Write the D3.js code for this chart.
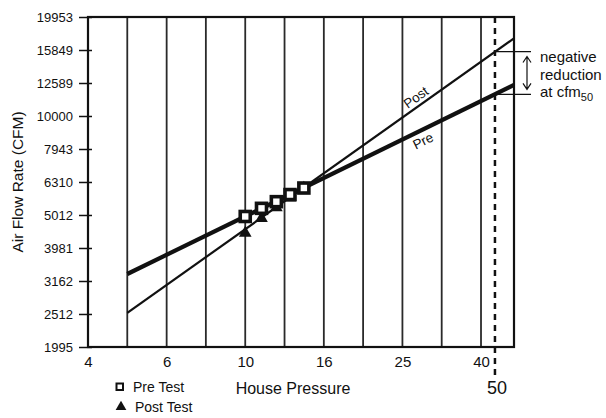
<!DOCTYPE html>
<html>
<head>
<meta charset="utf-8">
<script src="https://cdn.jsdelivr.net/npm/d3@7"></script>
<style>
  body { margin: 0; background: #fff; }
  text { font-family: "Liberation Sans", Arial, Helvetica, sans-serif; fill: #111; }
</style>
</head>
<body>
<div id="chart"></div>
<script>
/* values (log-log axes) */
var xGrid = [5.01, 6.31, 7.94, 10, 12.59, 15.85, 19.95, 25.12, 31.62, 39.81];
var xTickVals = [3.98, 6.31, 10, 15.85, 25.12, 39.81];
var xTickLabels = ["4", "6", "10", "16", "25", "40"];
var yTicks = [1995, 2512, 3162, 3981, 5012, 6310, 7943, 10000, 12589, 15849, 19953];

var preLine = [[5.01, 3320], [48.3, 12420]];
var postLine = [[5.01, 2530], [48.3, 17200]];
var preTest = [[10, 4960], [11, 5250], [12, 5500], [13, 5780], [14.1, 6050]];
var postTest = [[10, 4420], [11, 4900], [12, 5280], [13, 5650], [14.1, 6050]];

var cfm50 = 43.2, cfm50Label = "50";
var preAt50 = 11630, postAt50 = 15680;

var width = 606, height = 418;
var svg = d3.select("#chart").append("svg").attr("width", width).attr("height", height);

var x = d3.scaleLog().domain([3.98, 48.3]).range([88, 514]);
var y = d3.scaleLog().domain([1995, 19953]).range([347, 17]);

/* vertical grid */
svg.append("g").selectAll("line")
  .data(xGrid)
  .enter().append("line")
    .attr("x1", function(d) { return x(d); })
    .attr("x2", function(d) { return x(d); })
    .attr("y1", y(19953)).attr("y2", y(1995))
    .attr("stroke", "#2a2a2a").attr("stroke-width", 1.8);

/* y axis */
var gy = svg.append("g").attr("transform", "translate(88,0)")
  .call(d3.axisLeft(y).tickValues(yTicks).tickFormat(d3.format("d")).tickSize(9).tickPadding(6));
gy.select(".domain").remove();
gy.selectAll(".tick line").attr("x2", -9).attr("x1", 4).attr("stroke", "#111").attr("stroke-width", 1.5);
gy.selectAll(".tick text").attr("font-size", 13).attr("font-family", null).attr("dy", "0.36em");

/* x axis labels */
var gx = svg.append("g").attr("transform", "translate(0,347)")
  .call(d3.axisBottom(x).tickValues(xTickVals).tickSize(0).tickPadding(9)
    .tickFormat(function(d, i) { return xTickLabels[i]; }));
gx.select(".domain").remove();
gx.selectAll(".tick text").attr("font-size", 15).attr("font-family", null);

/* plot border */
svg.append("rect")
  .attr("x", x(3.98)).attr("y", y(19953))
  .attr("width", x(48.3) - x(3.98)).attr("height", y(1995) - y(19953))
  .attr("fill", "none").attr("stroke", "#111").attr("stroke-width", 2.2);

/* lines */
var line = d3.line()
  .x(function(d) { return x(d[0]); })
  .y(function(d) { return y(d[1]); });

svg.append("path").datum(preLine)
  .attr("d", line).attr("fill", "none").attr("stroke", "#111").attr("stroke-width", 4.2);
svg.append("path").datum(postLine)
  .attr("d", line).attr("fill", "none").attr("stroke", "#111").attr("stroke-width", 2.2);

/* dashed 50 Pa line */
svg.append("line")
  .attr("x1", x(cfm50)).attr("x2", x(cfm50))
  .attr("y1", y(19953)).attr("y2", 377)
  .attr("stroke", "#111").attr("stroke-width", 2.5)
  .attr("stroke-dasharray", "6,5");
svg.append("text")
  .attr("x", x(cfm50) + 2).attr("y", 394)
  .attr("text-anchor", "middle").attr("font-size", 18)
  .text(cfm50Label);

/* test points */
svg.append("g").selectAll("path")
  .data(postTest)
  .enter().append("path")
    .attr("d", d3.symbol().type(d3.symbolTriangle).size(70))
    .attr("transform", function(d) { return "translate(" + x(d[0]) + "," + y(d[1]) + ")"; })
    .attr("fill", "#111");

svg.append("g").selectAll("rect")
  .data(preTest)
  .enter().append("rect")
    .attr("x", function(d) { return x(d[0]) - 5; })
    .attr("y", function(d) { return y(d[1]) - 5; })
    .attr("width", 10).attr("height", 10)
    .attr("fill", "#fff").attr("stroke", "#111").attr("stroke-width", 3.6);

/* line labels, rotated along each line */
function lineLabel(data, xv, off, txt) {
  var x0 = x(data[0][0]), y0 = y(data[0][1]), x1 = x(data[1][0]), y1 = y(data[1][1]);
  var ang = Math.atan2(y1 - y0, x1 - x0) * 180 / Math.PI;
  var px = x(xv), py = y0 + (y1 - y0) * (px - x0) / (x1 - x0);
  svg.append("text")
    .attr("transform", "translate(" + px + "," + py + ") rotate(" + ang + ")")
    .attr("y", off)
    .attr("text-anchor", "middle").attr("font-size", 13.5)
    .text(txt);
}
lineLabel(postLine, 28.0, -4, "Post");
lineLabel(preLine, 27.6, 15, "Pre");

/* annotation bracket */
var ax0 = x(cfm50), ax1 = 531, axm = 527;
svg.append("line").attr("x1", ax0).attr("x2", ax1).attr("y1", y(postAt50)).attr("y2", y(postAt50))
  .attr("stroke", "#111").attr("stroke-width", 1.2);
svg.append("line").attr("x1", ax0).attr("x2", ax1).attr("y1", y(preAt50)).attr("y2", y(preAt50))
  .attr("stroke", "#111").attr("stroke-width", 1.2);
var ya = y(postAt50) + 5, yb = y(preAt50) - 5;
svg.append("path")
  .attr("d", "M" + axm + "," + ya + "V" + yb +
    "M" + (axm - 4) + "," + (ya + 6) + "L" + axm + "," + ya + "L" + (axm + 4) + "," + (ya + 6) +
    "M" + (axm - 4) + "," + (yb - 6) + "L" + axm + "," + yb + "L" + (axm + 4) + "," + (yb - 6))
  .attr("fill", "none").attr("stroke", "#111").attr("stroke-width", 1.2);

var note = svg.append("text").attr("font-size", 15);
note.append("tspan").attr("x", 540).attr("y", 62).text("negative");
note.append("tspan").attr("x", 540).attr("y", 80).text("reduction");
note.append("tspan").attr("x", 540).attr("y", 97).text("at cfm");
note.append("tspan").attr("dy", 4).attr("font-size", 11).text("50");

/* axis titles */
svg.append("text")
  .attr("transform", "translate(23,182) rotate(-90)")
  .attr("text-anchor", "middle").attr("font-size", 15.5)
  .text("Air Flow Rate (CFM)");
svg.append("text")
  .attr("x", 293).attr("y", 394)
  .attr("text-anchor", "middle").attr("font-size", 16)
  .text("House Pressure");

/* legend */
svg.append("rect").attr("x", 116.5).attr("y", 383.5).attr("width", 6.5).attr("height", 6.5)
  .attr("fill", "#fff").attr("stroke", "#111").attr("stroke-width", 2);
svg.append("text").attr("x", 133).attr("y", 392).attr("font-size", 14).text("Pre Test");
svg.append("path")
  .attr("d", d3.symbol().type(d3.symbolTriangle).size(50))
  .attr("transform", "translate(121,407)").attr("fill", "#111");
svg.append("text").attr("x", 135).attr("y", 412).attr("font-size", 14).text("Post Test");
</script>
</body>
</html>
